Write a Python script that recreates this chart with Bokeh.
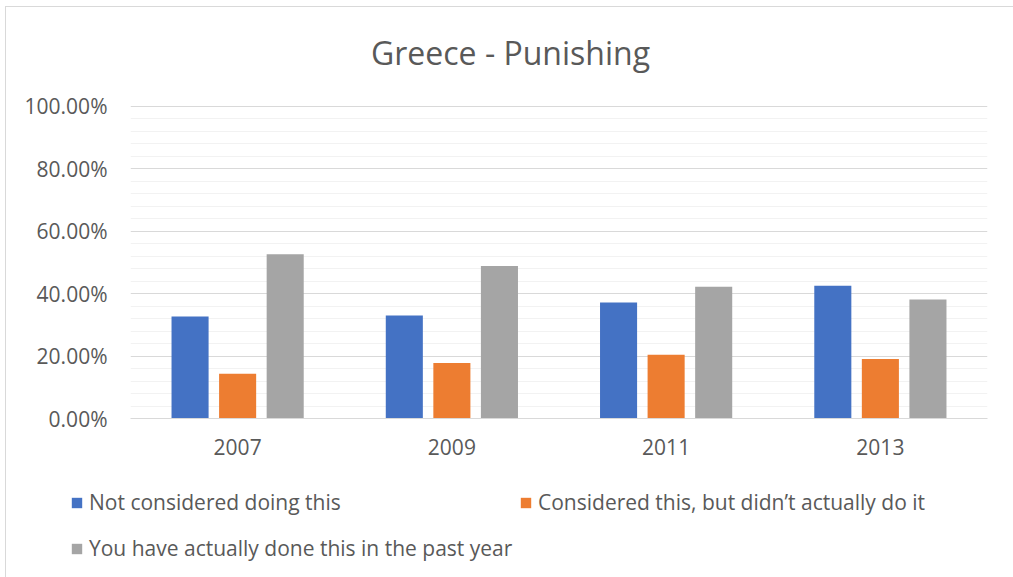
from bokeh.plotting import figure
from bokeh.layouts import column
from bokeh.models import (ColumnDataSource, FactorRange, Range1d, FixedTicker,
                          NumeralTickFormatter, Legend, LegendItem, Label)
from bokeh.transform import dodge
from bokeh.embed import file_html
from bokeh.resources import INLINE

years = ["2007", "2009", "2011", "2013"]
not_considered = [0.327, 0.330, 0.372, 0.425]
considered = [0.143, 0.178, 0.204, 0.191]
done = [0.526, 0.489, 0.422, 0.381]
series_names = ["Not considered doing this",
                "Considered this, but didn\u2019t actually do it",
                "You have actually done this in the past year"]
title_text = "Greece - Punishing"
y_ticks = [0.0, 0.2, 0.4, 0.6, 0.8, 1.0]
y_minor = [0.04, 0.08, 0.12, 0.16, 0.24, 0.28, 0.32, 0.36, 0.44, 0.48, 0.52, 0.56,
           0.64, 0.68, 0.72, 0.76, 0.84, 0.88, 0.92, 0.96]

colors = ["#4472C4", "#ED7D31", "#A5A5A5"]
FONT = "Open Sans"
TXT = "#595959"
W = 1007
TH = 80    # title strip height
MH = 391   # chart height
LH = 99    # legend strip height


def strip(height, **kw):
    f = figure(width=W, height=height, output_backend="svg", toolbar_location=None,
               min_border=0, min_border_left=0, min_border_right=0,
               min_border_top=0, min_border_bottom=0, **kw)
    f.frame_align = False
    f.axis.visible = False
    f.grid.grid_line_color = None
    f.outline_line_color = None
    f.border_fill_color = "white"
    f.background_fill_color = "white"
    return f


# ---- title strip
pt = strip(TH, x_range=Range1d(0, W), y_range=Range1d(0, TH))
pt.add_layout(Label(x=504, y=TH - 45, text=title_text, text_align="center",
                    text_baseline="middle", text_font=FONT, text_font_size="32px",
                    text_color=TXT))

# ---- chart
src = ColumnDataSource(dict(year=years, a=not_considered, b=considered, c=done))

p = figure(x_range=FactorRange(factors=years), y_range=Range1d(0, 1.003),
           width=W, height=MH, output_backend="svg", toolbar_location=None,
           min_border_left=124, min_border_right=26, min_border_top=18,
           min_border_bottom=60)
p.frame_align = False
p.title.visible = False
p.x_range.range_padding = 0
p.outline_line_color = None
p.background_fill_color = "white"
p.border_fill_color = "white"

offsets = [-0.222, 0.0, 0.222]
for col, off, c in zip(["a", "b", "c"], offsets, colors):
    p.vbar(x=dodge("year", off, range=p.x_range), top=col, width=0.173,
           source=src, fill_color=c, line_color=None)

p.yaxis.ticker = FixedTicker(ticks=y_ticks, minor_ticks=y_minor)
p.yaxis.formatter = NumeralTickFormatter(format="0.00%")
p.yaxis.axis_line_color = None
p.yaxis.major_tick_line_color = None
p.yaxis.minor_tick_line_color = None
p.yaxis.major_tick_out = 0
p.yaxis.major_label_standoff = 19
p.yaxis.major_label_text_font = FONT
p.yaxis.major_label_text_font_size = "21px"
p.yaxis.major_label_text_color = TXT

p.xaxis.axis_line_color = "#D9D9D9"
p.xaxis.major_tick_line_color = None
p.xaxis.minor_tick_line_color = None
p.xaxis.major_tick_out = 0
p.xaxis.major_label_standoff = 20
p.xaxis.major_label_text_font = FONT
p.xaxis.major_label_text_font_size = "21px"
p.xaxis.major_label_text_color = TXT

p.xgrid.grid_line_color = None
p.ygrid.grid_line_color = "#D9D9D9"
p.ygrid.minor_grid_line_color = "#F2F2F2"

# ---- legend strip: hidden copies of the series give the legend its colour keys
pl = strip(LH, x_range=FactorRange(factors=years), y_range=Range1d(0, 1))
key_renderers = []
for col, c in zip(["a", "b", "c"], colors):
    r = pl.vbar(x="year", top=col, width=0.173, source=src, fill_color=c, line_color=None)
    r.visible = False
    key_renderers.append(r)

positions = [(64, 61), (513, 61), (64, 15)]
for name, r, loc in zip(series_names, key_renderers, positions):
    lg = Legend(items=[LegendItem(label=name, renderers=[r])], location=loc,
                orientation="vertical", padding=0, margin=0, spacing=0,
                glyph_width=13, glyph_height=13, label_standoff=6,
                label_text_font=FONT, label_text_font_size="21px",
                label_text_color=TXT, label_text_baseline="middle",
                border_line_alpha=0, background_fill_alpha=0,
                click_policy="none")
    pl.add_layout(lg, "center")

layout = column(pt, p, pl, spacing=0)
layout.margin = (6, 0, 0, 5)
layout.styles = {"border-top": "1px solid #D9D9D9", "border-left": "1px solid #D9D9D9",
                 "background-color": "white"}

open("out.html", "w").write(file_html(layout, INLINE))
